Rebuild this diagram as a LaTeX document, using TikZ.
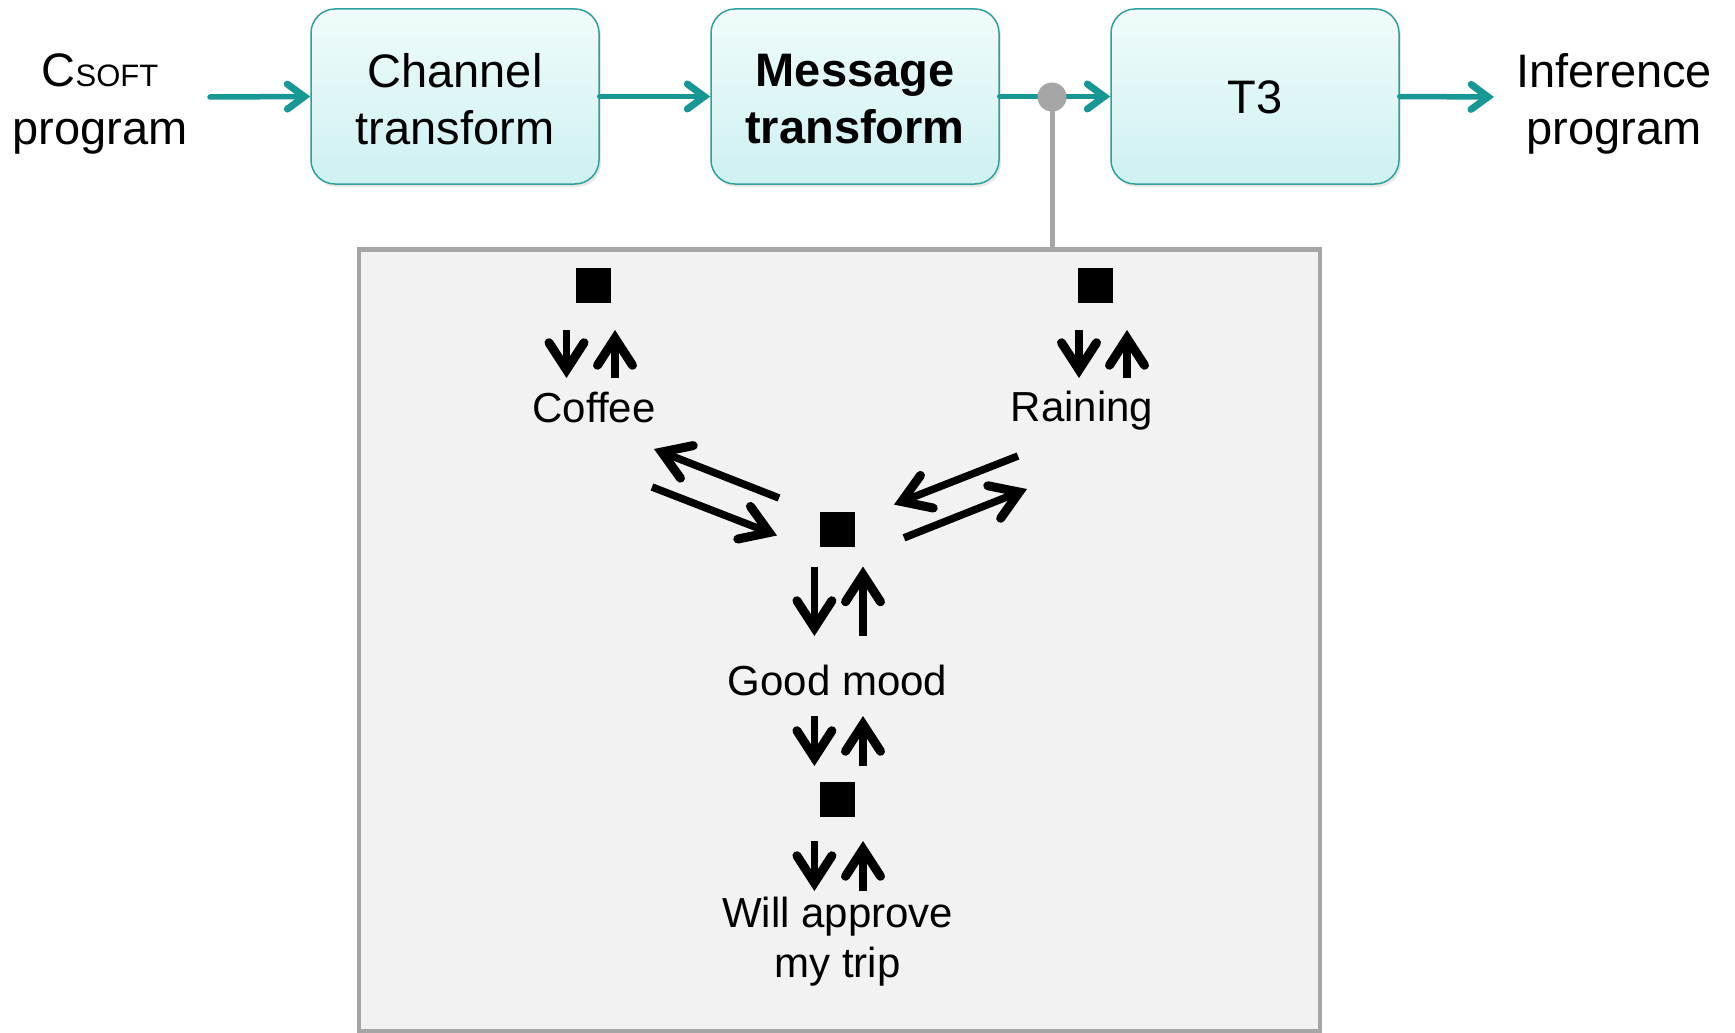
\documentclass[tikz,border=0pt]{standalone}
\usepackage{fontspec}
\setmainfont{Liberation Sans}
\usetikzlibrary{arrows.meta,shadows}

\definecolor{flowteal}{RGB}{24,152,148}
\definecolor{boxedge}{RGB}{46,160,156}
\definecolor{boxtop}{RGB}{240,251,251}
\definecolor{boxbot}{RGB}{206,241,241}
\definecolor{panelfill}{RGB}{242,242,242}
\definecolor{paneledge}{RGB}{166,166,166}

\tikzset{
  stagebox/.style={draw=boxedge, line width=1.5pt, rounded corners=24pt,
    top color=boxtop, bottom color=boxbot,
    minimum width=288pt, minimum height=175pt,
    drop shadow={opacity=0.18, shadow xshift=2pt, shadow yshift=-3pt}},
  stagetext/.style={align=center, font=\fontsize{47}{57.5}\selectfont, inner sep=0pt},
  endtext/.style={align=center, font=\fontsize{47}{57.5}\selectfont, inner sep=0pt},
  flow/.style={draw=flowteal, line width=5.5pt, line cap=round,
    -{Straight Barb[length=17pt,width=25pt,line width=7pt,line cap=round,line join=miter]}},
  varlabel/.style={align=center, font=\fontsize{42}{50}\selectfont, inner sep=0pt},
  factor/.style={fill=black, minimum size=35pt, inner sep=0pt},
  msg/.style={line width=7.5pt,
    -{Straight Barb[length=27pt,width=35pt,line width=9pt,line cap=round,line join=miter]}},
  tap/.style={draw=paneledge, line width=5pt}
}

\begin{document}
\begin{tikzpicture}[x=1pt,y=-1pt]
  \useasboundingbox (0,0) rectangle (1735,1033);
  \fill[white] (0,0) rectangle (1735,1033);

  % pipeline of stages
  \node[endtext] (csoft) at (100,104) {C{\fontsize{31}{36}\selectfont SOFT}\\program};
  \node[stagebox] (chan) at (455,96.5) {};
  \node[stagebox] (msgt) at (855,96.5) {};
  \node[stagebox] (tthree) at (1255,96.5) {};
  \node[stagetext] (chantext) at (455,99) {Channel\\transform};
  \node[stagetext] (msgttext) at (855,99) {\bfseries Message\\\bfseries transform};
  \node[stagetext] (tthreetext) at (1255,97) {T3};
  \node[endtext] (infer) at (1614,104) {Inference\\program};

  \coordinate (in) at (210,97);
  \coordinate (out) at (1494,97);
  \coordinate (tapdot) at (1052,97);

  \draw[flow] (in) -- (chan.west);
  \draw[flow] (chan.east) -- (msgt.west);
  \draw[flow] (msgt.east) -- (tthree.west);
  \draw[flow] (tthree.east) -- (out);

  % factor graph panel hanging off the tap point
  \draw[draw=paneledge, line width=4.5pt, fill=panelfill] (359,249.5) rectangle (1320,1031);
  \coordinate (paneltop) at (1052,249.5);
  \draw[tap] (tapdot) -- (paneltop);
  \fill[paneledge] (tapdot) circle[radius=14.5pt];

  % factors and variables
  \node[factor] (fcoffee) at (593,285.5) {};
  \node[factor] (frain) at (1095.5,285.5) {};
  \node[factor] (fmood) at (837.6,529) {};
  \node[factor] (ftrip) at (837.6,799) {};

  \node[varlabel] (coffee) at (594,408) {Coffee};
  \node[varlabel] (rain) at (1082,411) {Raining};
  \node[varlabel] (mood) at (837.6,680) {Good mood};
  \node[varlabel] (trip) at (837.6,942) {Will approve\\my trip};

  % messages passed along each edge
  \draw[msg] (566.5,330) -- (566.5,378);
  \draw[msg] (615,378) -- (615,330);
  \draw[msg] (1079,330) -- (1079,378);
  \draw[msg] (1127,378) -- (1127,330);

  \draw[msg] (779,498) -- (654,449);
  \draw[msg] (652,487) -- (777,535.5);
  \draw[msg] (1018,456) -- (894,504.6);
  \draw[msg] (904,537.8) -- (1027,489);

  \draw[msg] (814.4,566.5) -- (814.4,636);
  \draw[msg] (863,636) -- (863,566.5);
  \draw[msg] (814.4,716) -- (814.4,766);
  \draw[msg] (863,766) -- (863,716);
  \draw[msg] (814.4,841) -- (814.4,891);
  \draw[msg] (863,891) -- (863,841);
\end{tikzpicture}
\end{document}
